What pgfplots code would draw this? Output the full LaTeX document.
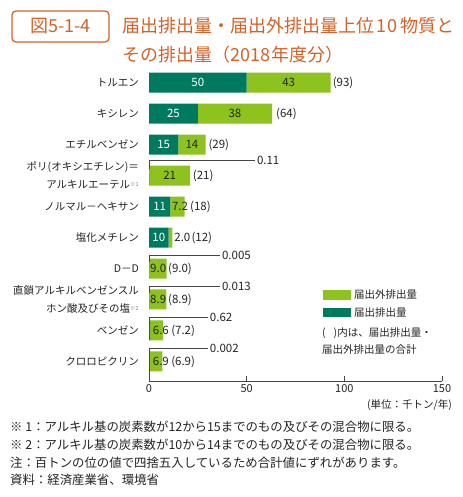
\documentclass[border=0pt]{standalone}
\usepackage{fontspec}
\setmainfont{Noto Sans CJK JP}
\usepackage{pgfplots}
\pgfplotsset{compat=1.18}
\definecolor{dkg}{RGB}{0,122,94}
\definecolor{ltg}{RGB}{141,194,31}
\definecolor{ttl}{RGB}{210,98,40}
\definecolor{txt}{RGB}{35,35,35}
\definecolor{brk}{RGB}{70,70,70}
\newcommand{\fsz}[2]{\fontsize{#1bp}{#2bp}\selectfont}
\pgfplotsset{geom/.style={
  at={(149bp,-381bp)}, anchor=south west,
  scale only axis, width=293bp, height=318bp,
  xmin=0, xmax=150, ymin=-0.63, ymax=9.63, y dir=reverse,
  clip=false}}
\begin{document}
\begin{tikzpicture}
\path[use as bounding box] (0,0) rectangle (463bp,-497bp);
% title
\draw[ttl, line width=1.3bp, rounded corners=4bp] (12bp,-11bp) rectangle (109bp,-42bp);
\node[ttl, font=\fsz{18}{20}, inner sep=0] at (60.5bp,-26.5bp) {図5-1-4};
\node[ttl, font=\fsz{18}{20}, anchor=west, inner sep=0] at (122bp,-26bp) {届出排出量・届出外排出量上位\hspace{2.5bp}1\hspace{1bp}0\hspace{2.5bp}物質と};
\node[ttl, font=\fsz{18}{20}, anchor=west, inner sep=0] at (122bp,-55bp) {その排出量（2018\hspace{1.5bp}年度分）};

\begin{axis}[
  geom,
  xbar stacked, bar width=20bp,
  axis x line=bottom, axis y line=none,
  axis line style={-, draw=brk, line width=1bp},
  xtick={0,50,100,150}, tick align=inside, major tick length=5bp,
  tick style={draw=brk, line width=1bp},
  xticklabel style={font=\fsz{11}{13}, text=txt},
  /pgf/number format/assume math mode=true,
  ytick=\empty,
]
% callout brackets
\draw[brk, line width=0.9bp] (axis cs:0,2.8) -- (axis cs:0,2.5) -- (axis cs:54.3,2.5) node[anchor=west, inner sep=1.5bp, font=\fsz{11.5}{13}, text=txt] {0.11};
\draw[brk, line width=0.9bp] (axis cs:0,5.8) -- (axis cs:0,5.57) -- (axis cs:36.4,5.57) node[anchor=west, inner sep=1.5bp, font=\fsz{11.5}{13}, text=txt] {0.005};
\draw[brk, line width=0.9bp] (axis cs:0,6.8) -- (axis cs:0,6.57) -- (axis cs:36.4,6.57) node[anchor=west, inner sep=1.5bp, font=\fsz{11.5}{13}, text=txt] {0.013};
\draw[brk, line width=0.9bp] (axis cs:0,7.8) -- (axis cs:0,7.57) -- (axis cs:30.2,7.57) node[anchor=west, inner sep=1.5bp, font=\fsz{11.5}{13}, text=txt] {0.62};
\draw[brk, line width=0.9bp] (axis cs:0,9.63) -- (axis cs:0,8.57) -- (axis cs:30.2,8.57) node[anchor=west, inner sep=1.5bp, font=\fsz{11.5}{13}, text=txt] {0.002};

\addplot[fill=dkg, draw=none] coordinates {(50,0) (25,1) (15,2) (0.11,3) (11,4) (10,5) (0.005,6) (0.013,7) (0.62,8) (0.002,9)};
\addplot[fill=ltg, draw=none] coordinates {(43,0) (38,1) (14,2) (21,3) (7.2,4) (2.0,5) (9.0,6) (8.9,7) (6.6,8) (6.9,9)};

% category labels
\tikzset{cat/.style={anchor=east, inner sep=0, text=txt, align=right, font=\fsz{10.5}{17.5}, xshift=-10bp}}
\node[cat] at (axis cs:0,0) {トルエン};
\node[cat] at (axis cs:0,1) {キシレン};
\node[cat] at (axis cs:0,2) {エチルベンゼン};
\node[cat] at (axis cs:0,3) {ポリ(オキシエチレン)＝\\アルキルエーテル\raisebox{1.5bp}{\fsz{5.5}{6}\color{gray}※1}};
\node[cat] at (axis cs:0,4) {ノルマル－ヘキサン};
\node[cat] at (axis cs:0,5) {塩化メチレン};
\node[cat] at (axis cs:0,6) {D－D};
\node[cat] at (axis cs:0,7) {直鎖アルキルベンゼンスル\\ホン酸及びその塩\raisebox{1.5bp}{\fsz{5.5}{6}\color{gray}※2}};
\node[cat] at (axis cs:0,8) {ベンゼン};
\node[cat] at (axis cs:0,9) {クロロピクリン};
\end{axis}

% value labels, in an overlay axis of the same geometry so they sit above the bars
\begin{axis}[geom, hide axis]
\tikzset{vw/.style={inner sep=0, text=white, font=\fsz{11.5}{13}},
         vd/.style={inner sep=0, text=txt, font=\fsz{11.5}{13}},
         vt/.style={inner sep=0, text=txt, font=\fsz{11.5}{13}, anchor=west}}
\node[vw] at (axis cs:25,0) {50};
\node[vd] at (axis cs:71.5,0) {43};
\node[vt] at (axis cs:94,0) {(93)};
\node[vw] at (axis cs:12.5,1) {25};
\node[vd] at (axis cs:44,1) {38};
\node[vt] at (axis cs:65,1) {(64)};
\node[vw] at (axis cs:7.5,2) {15};
\node[vd] at (axis cs:22,2) {14};
\node[vt] at (axis cs:30.4,2) {(29)};
\node[vd] at (axis cs:10.6,3) {21};
\node[vt] at (axis cs:22.4,3) {(21)};
\node[vw] at (axis cs:5.5,4) {11};
\node[vd] at (axis cs:15.9,4) {7.2};
\node[vt] at (axis cs:21,4) {(18)};
\node[vw] at (axis cs:5,5) {10};
\node[vt] at (axis cs:12.9,5) {2.0};
\node[vt] at (axis cs:21.7,5) {(12)};
\node[vt] at (axis cs:0.5,6) {9.0};
\node[vt] at (axis cs:9.7,6) {(9.0)};
\node[vt] at (axis cs:0.5,7) {8.9};
\node[vt] at (axis cs:9.7,7) {(8.9)};
\node[vt] at (axis cs:1.9,8) {6.6};
\node[vt] at (axis cs:11.3,8) {(7.2)};
\node[vt] at (axis cs:1.9,9) {6.9};
\node[vt] at (axis cs:11.3,9) {(6.9)};
\end{axis}

% legend
\fill[ltg] (322.5bp,-290bp) rectangle (350.5bp,-300bp);
\node[anchor=west, inner sep=0, text=txt, font=\fsz{10.5}{12}] at (354bp,-295bp) {届出外排出量};
\fill[dkg] (322.5bp,-308bp) rectangle (350.5bp,-317bp);
\node[anchor=west, inner sep=0, text=txt, font=\fsz{10.5}{12}] at (354bp,-312.5bp) {届出排出量};
\node[anchor=west, inner sep=0, text=txt, font=\fsz{10.5}{12}] at (322bp,-333bp) {(\hspace{8bp})内は、届出排出量・};
\node[anchor=west, inner sep=0, text=txt, font=\fsz{10.5}{12}] at (322bp,-350bp) {届出外排出量の合計};

% unit
\node[anchor=east, inner sep=0, text=txt, font=\fsz{10.5}{12}] at (452bp,-405bp) {(単位：千トン/年)};

% notes
\tikzset{note/.style={anchor=west, inner sep=0, text=txt, font=\fsz{12.4}{14}}}
\node[note] at (10bp,-427bp) {※ 1：アルキル基の炭素数が12から15までのもの及びその混合物に限る。};
\node[note] at (10bp,-445bp) {※ 2：アルキル基の炭素数が10から14までのもの及びその混合物に限る。};
\node[note] at (10bp,-463bp) {注：百トンの位の値で四捨五入しているため合計値にずれがあります。};
\node[note] at (10bp,-480bp) {資料：経済産業省、環境省};
\end{tikzpicture}
\end{document}
